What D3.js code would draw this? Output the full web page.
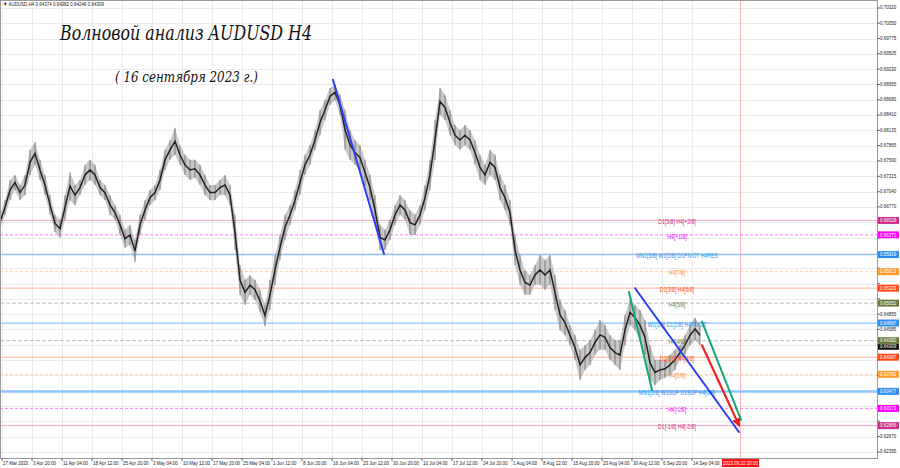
<!DOCTYPE html>
<html><head><meta charset="utf-8">
<script src="https://cdn.jsdelivr.net/npm/d3@7"></script>
<style>body{margin:0;background:#fff}svg{display:block}</style>
</head><body><svg id="c" width="900" height="468"></svg>
<script>
// ---------- DATA ----------
const symbolHeader = "\u25BC AUDUSD,H4  0.64374 0.64382 0.64246 0.64309";
const titleText = "Волновой анализ AUDUSD H4";
const subtitleText = "( 16 сентября 2023 г.)";
const sampleStep = 5; // H4 bars between samples
const highPrices = [0.6663,0.6689,0.6725,0.6734,0.6716,0.6734,0.6779,0.6793,0.6761,0.6734,
0.6698,0.6663,0.6654,0.6698,0.6739,0.6716,0.6725,0.6752,0.6761,0.6752,
0.6725,0.6716,0.6698,0.6680,0.6663,0.6636,0.6645,0.6618,0.6663,0.6689,
0.6707,0.6716,0.6743,0.6779,0.6796,0.6818,0.6787,0.6770,0.6761,0.6761,
0.6752,0.6734,0.6716,0.6716,0.6725,0.6734,0.6716,0.6663,0.6573,0.6547,
0.6555,0.6547,0.6529,0.6502,0.6547,0.6591,0.6627,0.6663,0.6680,0.6707,
0.6743,0.6770,0.6787,0.6814,0.6850,0.6868,0.6889,0.6895,0.6877,0.6850,
0.6814,0.6796,0.6787,0.6761,0.6734,0.6698,0.6645,0.6636,0.6654,0.6680,
0.6698,0.6689,0.6671,0.6663,0.6680,0.6716,0.6761,0.6832,0.6889,0.6877,
0.6850,0.6823,0.6814,0.6823,0.6814,0.6796,0.6770,0.6752,0.6779,0.6770,
0.6734,0.6716,0.6689,0.6627,0.6591,0.6564,0.6555,0.6573,0.6591,0.6582,
0.6591,0.6555,0.6511,0.6493,0.6466,0.6448,0.6422,0.6430,0.6439,0.6457,
0.6475,0.6466,0.6448,0.6439,0.6439,0.6484,0.6511,0.6502,0.6493,0.6475,
0.6430,0.6404,0.6404,0.6404,0.6413,0.6422,0.6430,0.6448,0.6466,0.6479,0.6466];
const lowPrices = [0.6636,0.6663,0.6689,0.6707,0.6689,0.6698,0.6734,0.6752,0.6725,0.6698,
0.6663,0.6632,0.6622,0.6654,0.6689,0.6680,0.6698,0.6716,0.6725,0.6716,
0.6698,0.6689,0.6663,0.6654,0.6627,0.6604,0.6609,0.6579,0.6627,0.6654,
0.6680,0.6689,0.6707,0.6743,0.6761,0.6770,0.6752,0.6734,0.6725,0.6729,
0.6716,0.6698,0.6689,0.6689,0.6698,0.6698,0.6680,0.6600,0.6520,0.6502,
0.6520,0.6511,0.6489,0.6464,0.6493,0.6538,0.6582,0.6618,0.6645,0.6671,
0.6698,0.6734,0.6752,0.6779,0.6805,0.6832,0.6859,0.6868,0.6841,0.6779,
0.6761,0.6752,0.6743,0.6716,0.6689,0.6645,0.6600,0.6600,0.6618,0.6645,
0.6663,0.6654,0.6627,0.6627,0.6645,0.6671,0.6707,0.6761,0.6841,0.6832,
0.6805,0.6787,0.6779,0.6787,0.6779,0.6752,0.6725,0.6716,0.6734,0.6725,
0.6689,0.6671,0.6645,0.6573,0.6538,0.6520,0.6520,0.6538,0.6538,0.6529,
0.6538,0.6493,0.6457,0.6448,0.6430,0.6404,0.6368,0.6386,0.6395,0.6413,
0.6422,0.6422,0.6404,0.6395,0.6386,0.6430,0.6466,0.6457,0.6439,0.6413,
0.6368,0.6359,0.6368,0.6372,0.6377,0.6386,0.6404,0.6413,0.6430,0.6439,0.6430];

const priceTickValues = [0.70320,0.70050,0.69775,0.69505,0.69230,0.68955,0.68680,0.68410,0.68135,0.67865,
0.67590,0.67315,0.67040,0.66770,0.66495,0.66220,0.65950,0.65675,0.65400,0.65130,
0.64855,0.64585,0.64310,0.64040,0.63765,0.63490,0.63220,0.62945,0.62670,0.62395];
const priceTickLabels = ["0.70320","0.70050","0.69775","0.69505","0.69230","0.68955","0.68680","0.68410","0.68135","0.67865",
"0.67590","0.67315","0.67040","0.66770","0.66495","0.66220","0.65950","0.65675","0.65400","0.65130",
"0.64855","0.64585","0.64310","0.64040","0.63765","0.63490","0.63220","0.62945","0.62670","0.62395"];

const timeTickBars = [2,32,62,92,122,152,182,212,242,272,302,332,362,392,422,452,482,512,542,572,602,632,662,692];
const timeTickLabels = ["27 Mar 2023","3 Apr 20:00","11 Apr 04:00","18 Apr 12:00","25 Apr 20:00","3 May 04:00",
"10 May 12:00","17 May 20:00","25 May 04:00","1 Jun 12:00","8 Jun 20:00","16 Jun 04:00","23 Jun 12:00",
"30 Jun 20:00","10 Jul 04:00","17 Jul 12:00","24 Jul 20:00","1 Aug 04:00","8 Aug 12:00","15 Aug 20:00",
"23 Aug 04:00","30 Aug 12:00","6 Sep 20:00","14 Sep 04:00"];
const futureBar = 740;
const futureLabel = "2023.09.22 20:00";

const levelPrices = [0.66528,0.66271,0.65919,0.65613,0.65320,0.65052,0.64697,0.64382,0.64087,0.63782,0.63477,0.63173,0.62866];
const levelNames = ["D1[5/8] H4[+2/8]","H4[+1/8]","MN1[3/8] W1[2/8] D1PIVOT H4RES","H4[7/8]","D1[3/8] H4[6/8]","H4[5/8]",
"W1[1/8] D1[2/8] H4PIVOT","H4[4/8]","D1[1/8] H4[3/8]","H4[2/8]","MN1[2/8] W1SUP D1SUP H4[1/8]","H4[-1/8]","D1[-1/8] H4[-2/8]"];
const levelKinds = ["pink","magenta","blue","orange","red","olive","blue","olive","red","orange","blueThick","magenta","pink"];
const levelTags = ["0.66528","0.66271","0.65919","0.65613","0.65320","0.65052","0.64697","0.64382","0.64087","0.63782","0.63477","0.63173","0.62866"];
const currentPrice = 0.64309;
const currentTag = "0.64309";

// trend lines: [startBar, startPrice, endBar, endPrice]
const blueLineA = [333, 0.6904, 384, 0.6593];
const greenLineA = [629, 0.6525, 652, 0.6350];
const blueLineB = [635, 0.6532, 739, 0.6275];
const greenLineB = [702, 0.6472, 741, 0.6297];
const redArrow = [702, 0.6430, 739, 0.6287];

// ---------- STYLES ----------
const kindStyle = {
  pink:{line:"#f2a6cf",dash:null,w:1,text:"#cc2e8a",tag:"#cc2e8a"},
  magenta:{line:"#ff80ff",dash:"3,2",w:1,text:"#ee00ee",tag:"#ff00ff"},
  blue:{line:"#8cc4ff",dash:null,w:1.2,text:"#2f8ff0",tag:"#2f8ff0"},
  blueThick:{line:"#8cc4ff",dash:null,w:2.5,text:"#2f8ff0",tag:"#2f8ff0"},
  orange:{line:"#ffd2a0",dash:"3,2",w:1,text:"#ff9020",tag:"#ff9a2e"},
  red:{line:"#ffb09a",dash:null,w:1,text:"#ff4a1a",tag:"#ff4a1a"},
  olive:{line:"#bdbdb0",dash:"4,2",w:1,text:"#6d7d3a",tag:"#6a7a40"}
};
const smallFont = "Liberation Sans, Arial, sans-serif";
const squeeze = 0.8;

// ---------- DRAW ----------
const W = 900, H = 468, plotR = 877, plotB = 458;
const svg = d3.select("#c");
const x = d3.scaleLinear().domain([0, plotR]).range([0, plotR]);
const y = d3.scaleLinear().domain([0.62395, 0.70320]).range([452, 8]);

// compressed small text helper
function smallText(parent, tx, ty, str, fill, anchor, size){
  return parent.append("text")
    .attr("transform", `translate(${tx},${ty}) scale(${squeeze},1)`)
    .attr("text-anchor", anchor || "start").attr("dominant-baseline","middle")
    .attr("font-family", smallFont).attr("font-size", size || 5.6)
    .attr("fill", fill).text(str);
}

svg.append("rect").attr("width",W).attr("height",H).attr("fill","#fff");

// grid
const g = svg.append("g");
g.selectAll(".hg").data(priceTickValues).enter().append("line")
  .attr("x1",0).attr("x2",plotR).attr("y1",d=>Math.round(y(d))+0.5).attr("y2",d=>Math.round(y(d))+0.5)
  .attr("stroke","#ebebeb").attr("stroke-width",1);
g.selectAll(".vg").data(timeTickBars).enter().append("line")
  .attr("x1",d=>Math.round(x(d))+0.5).attr("x2",d=>Math.round(x(d))+0.5).attr("y1",0).attr("y2",plotB)
  .attr("stroke","#ebebeb").attr("stroke-width",1);

// future vertical line
svg.append("line").attr("x1",x(futureBar)+0.5).attr("x2",x(futureBar)+0.5).attr("y1",0).attr("y2",plotB)
  .attr("stroke","#ffb4b4").attr("stroke-width",1);

// level lines
const levels = levelPrices.map((p,i)=>({p,name:levelNames[i],kind:levelKinds[i],tag:levelTags[i]}));
svg.append("g").selectAll("line").data(levels).enter().append("line")
  .attr("x1",0).attr("x2",plotR).attr("y1",d=>y(d.p)).attr("y2",d=>y(d.p))
  .attr("stroke",d=>kindStyle[d.kind].line).attr("stroke-width",d=>kindStyle[d.kind].w)
  .attr("stroke-dasharray",d=>kindStyle[d.kind].dash);

// price band (candles)
const bars = highPrices.map((h,i)=>({b:i*sampleStep,h,l:lowPrices[i]}));
svg.append("path").datum(bars)
  .attr("d",d3.area().x(d=>x(d.b)).y0(d=>y(d.l)).y1(d=>y(d.h)))
  .attr("fill","#9a9a9a").attr("opacity",0.55);
svg.append("g").selectAll("line").data(bars).enter().append("line")
  .attr("x1",d=>x(d.b)).attr("x2",d=>x(d.b)).attr("y1",d=>y(d.h)).attr("y2",d=>y(d.l))
  .attr("stroke","#6a6a6a").attr("stroke-width",0.8);
svg.append("path").datum(bars)
  .attr("d",d3.line().x(d=>x(d.b)).y(d=>(y(d.h)+y(d.l))/2))
  .attr("fill","none").attr("stroke","#222").attr("stroke-width",1.5);

// level names
const ln = svg.append("g");
levels.forEach(d=>smallText(ln, 677, y(d.p)+2, d.name, kindStyle[d.kind].text, "middle", 6.4));

// trend lines
function seg(arr,color,w){
  return svg.append("line").attr("x1",x(arr[0])).attr("y1",y(arr[1])).attr("x2",x(arr[2])).attr("y2",y(arr[3]))
    .attr("stroke",color).attr("stroke-width",w).attr("stroke-linecap","round");
}
seg(blueLineA,"#2a3ff0",2);
seg(greenLineA,"#12a878",2);
seg(blueLineB,"#2a3ff0",1.8);
seg(greenLineB,"#12a878",2);
const defs = svg.append("defs");
defs.append("marker").attr("id","ah").attr("viewBox","0 0 10 10").attr("refX",8).attr("refY",5)
  .attr("markerWidth",4).attr("markerHeight",4).attr("orient","auto")
  .append("path").attr("d","M0,0 L10,5 L0,10 z").attr("fill","#ee2020");
seg(redArrow,"#ee2020",2.2).attr("marker-end","url(#ah)");

// frame
svg.append("rect").attr("x",0.5).attr("y",0.5).attr("width",plotR).attr("height",plotB)
  .attr("fill","none").attr("stroke","#9a9a9a").attr("stroke-width",1);

// right axis (labels hidden under / pushed clear of tags)
const tagYs = levelPrices.concat([currentPrice]).map(p=>y(p));
const axisItems = priceTickValues.map((v,i)=>{
  let ty = y(v), show = true;
  tagYs.forEach(t=>{ const d = ty - t; if (Math.abs(d) < 4.5) show = false; });
  if (show) tagYs.forEach(t=>{ const d = ty - t; if (Math.abs(d) < 6.6) ty = t + Math.sign(d)*6.6; });
  return {v, ty, show, label: priceTickLabels[i]};
});
const ax = svg.append("g");
ax.selectAll("line").data(priceTickValues).enter().append("line")
  .attr("x1",plotR).attr("x2",plotR+3).attr("y1",d=>y(d)).attr("y2",d=>y(d)).attr("stroke","#666");
axisItems.filter(d=>d.show).forEach(d=>smallText(ax, plotR+3, d.ty, d.label, "#222"));

// tags
const tagG = svg.append("g");
const tagData = [{p:currentPrice,tag:currentTag,kind:"current"}].concat(levels);
tagData.forEach(d=>{
  const col = d.kind==="current" ? "#111" : kindStyle[d.kind].tag;
  const dy = d.kind==="current" ? 1.5 : 0;
  tagG.append("rect").attr("x",plotR+1).attr("y",y(d.p)-3.5+dy).attr("width",21).attr("height",7).attr("fill",col);
  smallText(tagG, plotR+3, y(d.p)+0.3+dy, d.tag, "#fff");
});

// bottom axis
const bx = svg.append("g");
bx.selectAll("line").data(timeTickBars).enter().append("line")
  .attr("x1",d=>x(d)).attr("x2",d=>x(d)).attr("y1",plotB).attr("y2",plotB+3).attr("stroke","#666");
timeTickBars.forEach((b,i)=>smallText(bx, x(b)+1, 463.5, timeTickLabels[i], "#222"));
bx.append("rect").attr("x",x(futureBar)-18).attr("y",459).attr("width",37).attr("height",8).attr("fill","#ff1010");
smallText(bx, x(futureBar)+0.5, 463.3, futureLabel, "#fff", "middle");

// header + titles
smallText(svg, 3, 4.5, symbolHeader, "#222");
svg.append("text").attr("x",60).attr("y",40).attr("font-family","DejaVu Serif, serif").attr("font-style","italic")
  .attr("font-size",21).attr("fill","#111").attr("textLength",252).attr("lengthAdjust","spacingAndGlyphs").text(titleText);
svg.append("text").attr("x",115).attr("y",82).attr("font-family","DejaVu Serif, serif").attr("font-style","italic")
  .attr("font-size",15).attr("fill","#111").attr("textLength",143).attr("lengthAdjust","spacingAndGlyphs").text(subtitleText);
</script></body></html>
